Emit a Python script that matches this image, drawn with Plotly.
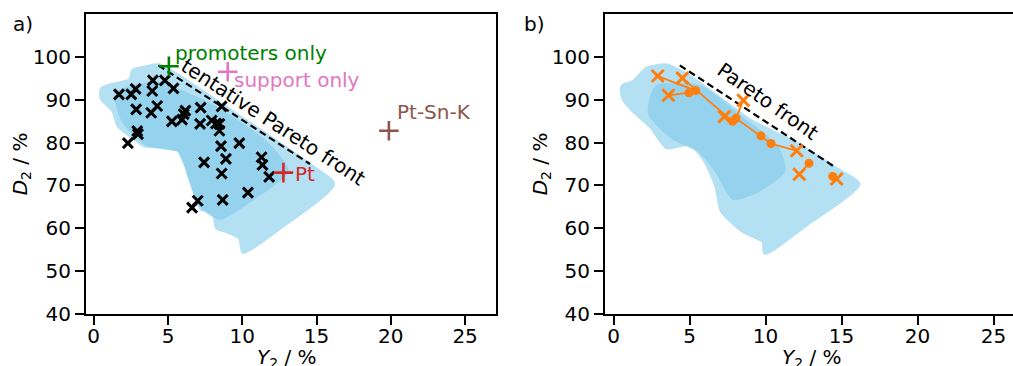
import plotly.graph_objects as go

# ---------------- data ----------------
# panel a: screened candidates (black x)
cand_y2 = [1.70, 2.53, 2.82, 3.98, 3.94, 4.79, 5.37, 2.86, 4.27, 3.87, 2.93, 2.98, 2.30,
           6.17, 6.06, 5.95, 5.26, 7.20, 7.16, 8.61, 7.94, 8.23, 8.46, 8.46, 8.57, 9.80,
           8.90, 7.43, 8.61, 11.30, 11.36, 11.81, 10.38, 8.68, 7.00, 6.62]
cand_d2 = [91.3, 91.3, 92.6, 94.6, 92.1, 94.6, 92.7, 87.8, 88.6, 87.0, 82.7, 82.0, 79.9,
           87.5, 86.7, 85.4, 85.0, 88.2, 84.4, 88.5, 85.2, 84.5, 84.4, 82.8, 79.2, 79.9,
           76.2, 75.4, 72.8, 76.6, 74.8, 72.0, 68.3, 66.6, 66.4, 64.8]

# reference catalysts (+)
ref_names = ["promoters only", "support only", "Pt-Sn-K", "Pt"]
ref_y2 = [5.06, 9.02, 19.87, 12.77]
ref_d2 = [97.9, 96.6, 82.8, 73.0]
ref_colors = ["#008000", "#e377c2", "#8c564b", "#d62728"]
ref_label_y2 = [5.32, 9.29, 20.28, 13.43]
ref_label_d2 = [100.9, 94.6, 87.1, 72.6]

# model prediction clouds (outline and dense core)
cloud_a_y2 = [0.54, 0.54, 1.32, 1.66, 2.67, 3.45, 5.59, 5.81, 6.37, 6.82, 7.27, 8.05, 8.28,
              8.95, 9.85, 10.07, 12.54, 16.12, 14.78, 8.50, 4.46, 3.57, 2.67, 2.44, 1.32]
cloud_a_d2 = [92.6, 90.3, 87.5, 84.0, 81.2, 79.3, 79.3, 77.7, 73.4, 68.7, 64.4, 64.4, 60.1,
              59.3, 57.7, 54.4, 60.1, 70.3, 74.2, 89.1, 98.1, 97.7, 96.9, 94.6, 93.6]
core_a_y2 = [1.55, 4.24, 8.50, 11.64, 12.99, 10.74, 8.50, 7.15, 6.48, 5.81, 3.57, 1.99]
core_a_d2 = [91.5, 93.8, 87.5, 79.7, 73.4, 67.1, 62.4, 65.6, 71.8, 78.1, 79.7, 85.2]

cloud_b_y2 = [0.54, 0.65, 1.30, 2.51, 3.50, 5.03, 6.02, 6.79, 7.12, 8.54, 9.86, 9.97, 12.71,
              16.11, 14.68, 12.05, 8.98, 5.03, 3.50, 2.18, 1.30, 0.65]
cloud_b_d2 = [92.6, 90.3, 87.5, 83.6, 78.9, 79.7, 75.8, 69.5, 64.0, 59.3, 56.9, 54.2, 60.9,
              70.3, 73.8, 79.7, 85.2, 95.4, 98.1, 97.3, 94.2, 93.4]
core_b_y2 = [2.84, 5.69, 8.32, 10.74, 11.17, 9.42, 7.88, 6.79, 5.69, 3.93, 2.40]
core_b_d2 = [93.0, 93.0, 86.0, 78.9, 73.4, 68.7, 67.1, 73.4, 78.1, 81.2, 86.8]

# Pareto front lines
front_a_y2 = [4.35, 14.56]
front_a_d2 = [98.1, 75.0]
front_b_y2 = [4.36, 14.60]
front_b_d2 = [98.1, 74.2]

# panel b: predicted (x) and measured (o)
pred_y2 = [2.91, 4.53, 3.61, 7.29, 8.54, 12.05, 12.22, 14.68]
pred_d2 = [95.6, 95.1, 91.1, 86.1, 89.9, 78.1, 72.6, 71.5]
meas_y2 = [4.97, 5.41, 7.84, 8.06, 9.70, 10.36, 12.86, 14.42]
meas_d2 = [91.7, 92.2, 85.0, 85.7, 81.6, 79.8, 75.2, 72.1]
# connections (pred index, meas index) and main chain
links = [(0, 1), (2, 0), (3, 2), (4, 3), (6, 6), (7, 7)]
chain = [("p", 1), ("m", 2), ("m", 3), ("m", 4), ("m", 5), ("p", 5)]

x_ticks = [0, 5, 10, 15, 20, 25]
y_ticks = [40, 50, 60, 70, 80, 90, 100]

FONT = "DejaVu Sans"
FS = 20
LIGHT = "#b4e0f3"
CORE = "#95d2ed"
ORANGE = "#ff7f0e"

fig = go.Figure()

def cloud(xs, ys, color, xa, ya):
    fig.add_trace(go.Scatter(x=xs + [xs[0]], y=ys + [ys[0]], fill="toself", mode="lines",
                             line=dict(color=color, width=4, shape="spline", smoothing=0.6),
                             fillcolor=color, hoverinfo="skip", showlegend=False,
                             xaxis=xa, yaxis=ya))

# panel a
cloud(cloud_a_y2, cloud_a_d2, LIGHT, "x", "y")
cloud(core_a_y2, core_a_d2, CORE, "x", "y")
fig.add_trace(go.Scatter(x=front_a_y2, y=front_a_d2, mode="lines",
                         line=dict(color="black", width=2.2, dash="7px,4px"),
                         showlegend=False, xaxis="x", yaxis="y"))
fig.add_trace(go.Scatter(x=cand_y2, y=cand_d2, mode="markers",
                         marker=dict(symbol="x-thin", size=10, line=dict(color="black", width=3)),
                         showlegend=False, xaxis="x", yaxis="y"))
for i in range(len(ref_names)):
    fig.add_trace(go.Scatter(x=[ref_y2[i]], y=[ref_d2[i]], mode="markers",
                             marker=dict(symbol="cross-thin", size=14,
                                         line=dict(color=ref_colors[i], width=2.6)),
                             showlegend=False, xaxis="x", yaxis="y"))
    fig.add_annotation(x=ref_label_y2[i], y=ref_label_d2[i], xref="x", yref="y",
                       text=ref_names[i], showarrow=False, xanchor="left", yanchor="middle",
                       font=dict(family=FONT, size=FS, color=ref_colors[i]))
fig.add_annotation(x=12.09, y=84.8, xref="x", yref="y", text="tentative Pareto front",
                   showarrow=False, textangle=33, font=dict(family=FONT, size=FS, color="black"))

# panel b
cloud(cloud_b_y2, cloud_b_d2, LIGHT, "x2", "y2")
cloud(core_b_y2, core_b_d2, CORE, "x2", "y2")
fig.add_trace(go.Scatter(x=front_b_y2, y=front_b_d2, mode="lines",
                         line=dict(color="black", width=2.2, dash="7px,4px"),
                         showlegend=False, xaxis="x2", yaxis="y2"))
lx, ly = [], []
for p, m in links:
    lx += [pred_y2[p], meas_y2[m], None]
    ly += [pred_d2[p], meas_d2[m], None]
for kind, idx in chain:
    lx.append(pred_y2[idx] if kind == "p" else meas_y2[idx])
    ly.append(pred_d2[idx] if kind == "p" else meas_d2[idx])
fig.add_trace(go.Scatter(x=lx, y=ly, mode="lines", line=dict(color=ORANGE, width=1.8),
                         showlegend=False, xaxis="x2", yaxis="y2"))
fig.add_trace(go.Scatter(x=meas_y2, y=meas_d2, mode="markers",
                         marker=dict(symbol="circle", size=9, color=ORANGE),
                         showlegend=False, xaxis="x2", yaxis="y2"))
fig.add_trace(go.Scatter(x=pred_y2, y=pred_d2, mode="markers",
                         marker=dict(symbol="x-thin", size=12, line=dict(color=ORANGE, width=3)),
                         showlegend=False, xaxis="x2", yaxis="y2"))
fig.add_annotation(x=10.13, y=89.7, xref="x2", yref="y2", text="Pareto front",
                   showarrow=False, textangle=35, font=dict(family=FONT, size=FS, color="black"))

# the photographed page is squeezed vertically (381 -> 366), so lay out in a 381-tall frame
W, H = 1013, 381
K = H / 366.0

axis_common = dict(showgrid=False, zeroline=False, showline=True, linecolor="black",
                   linewidth=2, ticks="outside", ticklen=9, tickwidth=2, tickcolor="black",
                   tickfont=dict(family=FONT, size=FS, color="black"))
ydom = [1 - 311 * K / H, 1 - 14 * K / H]
fig.update_layout(
    width=W, height=H, margin=dict(l=0, r=0, t=0, b=0),
    paper_bgcolor="white", plot_bgcolor="white", showlegend=False,
    xaxis=dict(domain=[86 / W, 496 / W], range=[-0.52, 27.08], tickvals=x_ticks,
               mirror=True, anchor="y", ticklabelstandoff=-6, **axis_common),
    yaxis=dict(domain=ydom, range=[40, 110.1], tickvals=y_ticks,
               mirror=True, anchor="x", **axis_common),
    xaxis2=dict(domain=[605 / W, 1.0], range=[-0.56, 26.28], tickvals=x_ticks,
                mirror=True, anchor="y2", ticklabelstandoff=-6, **axis_common),
    yaxis2=dict(domain=ydom, range=[40, 110.1], tickvals=y_ticks,
                mirror=False, anchor="x2", **axis_common),
)

def paper_text(px, py, text, angle=0, size=FS):
    fig.add_annotation(x=px / W, y=1 - py * K / H, xref="paper", yref="paper", text=text,
                       showarrow=False, textangle=angle, xanchor="center", yanchor="middle",
                       font=dict(family=FONT, size=size, color="black"))

paper_text(23, 24, "a)")
paper_text(534, 24, "b)")
paper_text(21, 163, "<i>D</i><sub>2</sub> / %", angle=-90)
paper_text(541, 163, "<i>D</i><sub>2</sub> / %", angle=-90)
paper_text(287, 355, "<i>Y</i><sub>2</sub> / %")
paper_text(812, 355, "<i>Y</i><sub>2</sub> / %")

page_css = ("var s=document.documentElement.style; s.margin='0'; s.padding='0'; s.overflow='hidden';"
            "var b=document.body.style; b.margin='0'; b.padding='0'; b.overflow='hidden';")
fig.write_html("out.html", config={"displayModeBar": False}, post_script=page_css)
